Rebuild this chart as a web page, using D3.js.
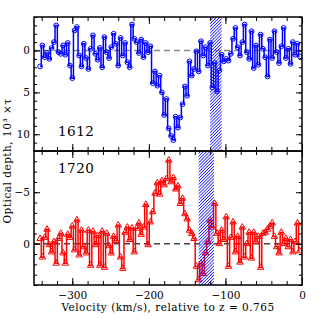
<!DOCTYPE html>
<html lang="en">
<head>
<meta charset="UTF-8">
<title>1612 / 1720 optical depth</title>
<script src="https://cdn.jsdelivr.net/npm/d3@7"></script>
<style>
  body { margin: 0; background: #fff; }
  text { font-family: "DejaVu Serif", serif; fill: #000; }
</style>
</head>
<body>
<script>
// channel velocities (km/s), 3 km/s spacing
const velocity = d3.range(-342, 0, 3);

// 10^3 x tau, 1612 MHz line
const tau1612 = [
  1.9, -0.6, 0.8, 0.3, 1.0, -0.3, -1.0, -3.0, 0.2, 0.4,
  -0.6, 0.5, -0.9, 1.8, 3.3, -2.4, -2.8, 0.6, 1.9, -0.8,
  0.9, 2.2, -0.2, -1.8, 0.4, 1.1, -0.3, 2.0, -1.6, 0.2,
  0.9, -0.4, -2.0, -0.8, 1.8, -1.5, 0.6, -0.9, 1.4, 2.0,
  -3.1, -1.4, -1.0, 0.3, -1.3, 0.8, -0.9, 0.2, -0.5, 3.9,
  2.5, 4.2, 3.0, 5.0, 7.7, 5.8, 9.3, 10.2, 10.7, 7.9,
  9.2, 8.0, 6.4, 4.3, 5.4, 1.3, 3.0, 2.2, 0.1, 2.5,
  -1.1, 0.6, -0.4, 1.8, -0.9, 4.4, 1.5, 4.9, 2.4, 0.5,
  1.3, 1.0, 1.2, 0.4, -1.4, -2.7, -0.4, 0.6, -1.0, -3.1,
  0.2, 1.0, -2.3, 2.1, -0.6, 1.7, -1.9, -0.2, 0.8, 3.1,
  -1.3, 0.9, -2.3, 0.2, 1.5, -0.5, -2.7, 0.9, -0.2, 1.6,
  -1.0, 0.5, -0.8, 0.7
];

// 10^3 x tau, 1720 MHz line
const tau1720 = [
  -0.5, 1.3, -0.6, -1.4, 0.1, 0.8, -0.2, 1.9, -0.5, -1.0,
  0.9, 1.9, -0.9, -0.6, -1.7, 0.6, -2.3, 1.1, -1.3, 0.3,
  0.9, -1.3, 2.1, -1.2, 0.1, -0.8, 2.1, -1.2, 2.3, -1.0,
  0.2, 0.9, -0.7, -0.3, -1.8, 1.3, 2.4, -1.1, -1.6, -0.4,
  -1.5, 0.8, -1.5, -2.0, -0.9, -1.6, -3.8, 0.1, -2.1, -3.1,
  -4.9, -5.9, -4.8, -6.1, -5.7, -6.3, -8.1, -6.0, -6.4, -5.3,
  -5.6, -3.9, -4.4, -2.9, -2.4, -1.3, -1.0, -0.5, 2.2, 3.5,
  1.9, 2.9, 0.9, -0.2, -2.3, -1.6, -3.9, -1.0, 0.0, -1.3,
  -0.4, -2.6, 2.2, -0.6, -2.1, 0.8, -0.7, 1.8, -1.6, 1.3,
  0.0, -1.1, 1.4, -1.1, -0.2, -0.7, 2.3, -1.0, -1.1, -1.4,
  -1.7, -2.0, -0.7, 0.3, 0.9, -1.1, 0.0, -0.5, 0.3, -0.4,
  0.8, -0.2, -2.0, 0.7
];

// masked (hatched) velocity ranges
const maskTop = [[-120, -105]];
const maskBot = [[-135, -115]];

const xTicks = [-300, -200, -100, 0];
const yTicksTop = [0, 5, 10];
const yTicksBot = [-5, 0];

const w = 319, h = 319;
const padL = 34, padR = 302, padT = 17, padM = 151, padB = 285;

const svg = d3.select("body").append("svg")
  .attr("width", w).attr("height", h);

const defs = svg.append("defs");
const pat = defs.append("pattern")
  .attr("id", "hatch")
  .attr("patternUnits", "userSpaceOnUse")
  .attr("width", 2.2).attr("height", 2.2)
  .attr("patternTransform", "rotate(45)");
pat.append("line")
  .attr("x1", 0).attr("y1", 0).attr("x2", 0).attr("y2", 2.2)
  .attr("stroke", "#0d0dff").attr("stroke-width", 1.5);

const x = d3.scaleLinear().domain([-350, 0]).range([padL, padR]);

const panels = [
  { name: "1612", tau: tau1612, y: d3.scaleLinear().domain([-4, 12]).range([padT, padM]),
    ticks: yTicksTop, minor: d3.range(-4, 13, 1), mask: maskTop,
    color: "#0000ff", dash: "#888", marker: "circle", y0: padT, y1: padM, labelY: 136 },
  { name: "1720", tau: tau1720, y: d3.scaleLinear().domain([-9, 4]).range([padM, padB]),
    ticks: yTicksBot, minor: d3.range(-9, 5, 1), mask: maskBot,
    color: "#ff0000", dash: "#444", marker: "triangle", y0: padM, y1: padB, labelY: 173 }
];

panels.forEach((p, k) => {
  const g = svg.append("g");
  const clipId = "clip" + k;
  defs.append("clipPath").attr("id", clipId)
    .append("rect")
    .attr("x", padL).attr("y", p.y0)
    .attr("width", padR - padL).attr("height", p.y1 - p.y0);

  const pts = velocity.map((v, i) => [v, p.tau[i]]);
  const plot = g.append("g").attr("clip-path", `url(#${clipId})`);

  // zero line
  plot.append("line")
    .attr("x1", padL).attr("x2", padR)
    .attr("y1", p.y(0)).attr("y2", p.y(0))
    .attr("stroke", p.dash).attr("stroke-width", 1.3)
    .attr("stroke-dasharray", "6,4");

  const line = d3.line()
    .x(d => x(d[0]))
    .y(d => p.y(d[1]))
    .curve(d3.curveStep);

  plot.append("path")
    .datum(pts)
    .attr("d", line)
    .attr("fill", "none")
    .attr("stroke", p.color)
    .attr("stroke-width", 1.5);

  if (p.marker === "circle") {
    plot.selectAll("circle.pt")
      .data(pts)
      .enter().append("circle")
      .attr("class", "pt")
      .attr("cx", d => x(d[0]))
      .attr("cy", d => p.y(d[1]))
      .attr("r", 2.4)
      .attr("fill", "none")
      .attr("stroke", p.color)
      .attr("stroke-width", 1);
  } else {
    const tri = d3.symbol(d3.symbolTriangle, 18);
    plot.selectAll("path.pt")
      .data(pts)
      .enter().append("path")
      .attr("class", "pt")
      .attr("d", tri)
      .attr("transform", d => `translate(${x(d[0])},${p.y(d[1])})`)
      .attr("fill", "none")
      .attr("stroke", p.color)
      .attr("stroke-width", 1);
  }

  // hatched masks
  plot.selectAll("rect.mask")
    .data(p.mask)
    .enter().append("rect")
    .attr("class", "mask")
    .attr("x", d => x(d[0]))
    .attr("width", d => x(d[1]) - x(d[0]))
    .attr("y", p.y0).attr("height", p.y1 - p.y0)
    .attr("fill", "url(#hatch)");

  // axes: inward ticks on all sides
  const xMinor = d3.range(-340, 1, 20);
  const addX = (yPos, dir, labels) => {
    const major = (dir > 0 ? d3.axisBottom(x) : d3.axisTop(x))
      .tickValues(xTicks).tickSizeInner(-7).tickSizeOuter(0)
      .tickFormat(labels ? d3.format("d") : "");
    const minor = (dir > 0 ? d3.axisBottom(x) : d3.axisTop(x))
      .tickValues(xMinor).tickSizeInner(-4).tickSizeOuter(0).tickFormat("");
    const a = g.append("g").attr("transform", `translate(0,${yPos})`).call(minor);
    const b = g.append("g").attr("transform", `translate(0,${yPos})`).call(major);
    [a, b].forEach(s => { s.select(".domain").remove(); s.selectAll("line").attr("stroke-width", 1); });
    if (labels) {
      b.selectAll("text")
        .attr("font-size", 10.5).attr("font-family", "DejaVu Serif")
        .attr("y", 7);
    }
  };
  addX(p.y1, 1, k === 1);
  addX(p.y0, -1, false);

  const addY = (xPos, dir, labels) => {
    const major = (dir < 0 ? d3.axisLeft(p.y) : d3.axisRight(p.y))
      .tickValues(p.ticks).tickSizeInner(-6).tickSizeOuter(0)
      .tickFormat(labels ? d3.format("d") : "");
    const minor = (dir < 0 ? d3.axisLeft(p.y) : d3.axisRight(p.y))
      .tickValues(p.minor).tickSizeInner(-3).tickSizeOuter(0).tickFormat("");
    const a = g.append("g").attr("transform", `translate(${xPos},0)`).call(minor);
    const b = g.append("g").attr("transform", `translate(${xPos},0)`).call(major);
    [a, b].forEach(s => { s.select(".domain").remove(); s.selectAll("line").attr("stroke-width", 1); });
    if (labels) {
      b.selectAll("text")
        .attr("font-size", 10.5).attr("font-family", "DejaVu Serif")
        .attr("x", -4);
    }
  };
  addY(padL, -1, true);
  addY(padR, 1, false);

  // frame
  g.append("rect")
    .attr("x", padL).attr("y", p.y0)
    .attr("width", padR - padL).attr("height", p.y1 - p.y0)
    .attr("fill", "none").attr("stroke", "#000").attr("stroke-width", 1.5);

  g.append("text")
    .attr("x", 58).attr("y", p.labelY)
    .attr("font-size", 13.5)
    .attr("letter-spacing", 0.5)
    .text(p.name);
});

// axis titles
svg.append("text")
  .attr("x", (padL + padR) / 2).attr("y", 311)
  .attr("text-anchor", "middle")
  .attr("font-size", 10.5)
  .attr("letter-spacing", 0.5)
  .text("Velocity (km/s), relative to z = 0.765");

svg.append("text")
  .attr("transform", "translate(11,161) rotate(-90)")
  .attr("text-anchor", "middle")
  .attr("font-size", 10.5)
  .attr("letter-spacing", 0.5)
  .text("Optical depth, 10³ ×τ");
</script>
</body>
</html>
